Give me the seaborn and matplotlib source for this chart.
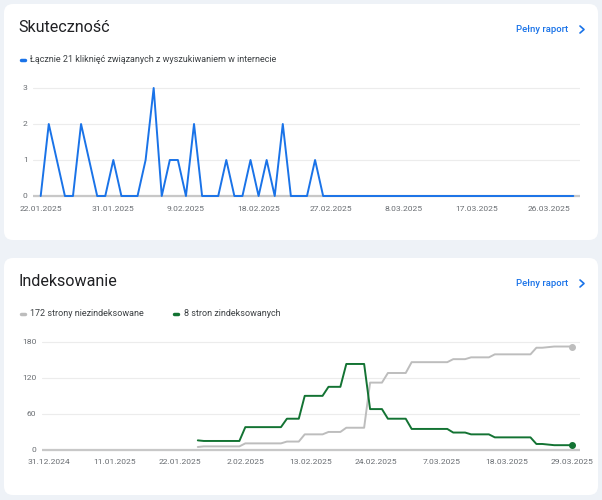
import matplotlib
matplotlib.use("Agg")
import matplotlib.pyplot as plt
import matplotlib.ticker as mticker
import matplotlib.dates as mdates
from matplotlib.patches import FancyBboxPatch
from matplotlib.lines import Line2D
from matplotlib.transforms import IdentityTransform
import pandas as pd
import seaborn as sns

sns.set_style("white")
plt.rcParams["font.family"] = ["Roboto", "DejaVu Sans"]

# Skutecznosc: daily clicks from 22.01.2025
click_start = "2025-01-22"
clicks = [0, 2, 1, 0, 0, 2, 1, 0, 0, 1, 0, 0, 0, 1, 3, 0, 1, 1, 0, 2,
          0, 0, 0, 1, 0, 0, 1, 0, 1, 0, 2, 0, 0, 0, 1, 0, 0, 0, 0, 0,
          0, 0, 0, 0, 0, 0, 0, 0, 0, 0, 0, 0, 0, 0, 0, 0, 0, 0, 0, 0,
          0, 0, 0, 0, 0, 0, 0]
click_ticks = ["2025-01-22", "2025-01-31", "2025-02-09", "2025-02-18",
               "2025-02-27", "2025-03-08", "2025-03-17", "2025-03-26"]
click_yticks = [0, 1, 2, 3]
click_label = "Łącznie 21 kliknięć związanych z wyszukiwaniem w internecie"

# Indeksowanie: daily page counts from 25.01.2025
index_start = "2025-01-25"
not_indexed = [5, 6, 6, 6, 6, 6, 6, 6, 11, 11, 11, 11, 11, 11, 11, 14, 14, 14,
               26, 26, 26, 26, 30, 30, 30, 37, 37, 37, 37, 112, 112, 112,
               128, 128, 128, 128, 146, 146, 146, 146, 146, 146, 146,
               151, 151, 151, 154, 154, 154, 154,
               159, 159, 159, 159, 159, 159, 159, 170, 170, 171,
               172, 172, 172, 172]
indexed = [16, 15, 15, 15, 15, 15, 15, 15, 38, 38, 38, 38, 38, 38, 38, 52, 52, 52,
           90, 90, 90, 90, 105, 105, 105, 143, 143, 143, 143, 68, 68, 68,
           52, 52, 52, 52, 35, 35, 35, 35, 35, 35, 35,
           29, 29, 29, 26, 26, 26, 26,
           21, 21, 21, 21, 21, 21, 21, 10, 10, 9,
           8, 8, 8, 8]
index_ticks = ["2024-12-31", "2025-01-11", "2025-01-22", "2025-02-02", "2025-02-13",
               "2025-02-24", "2025-03-07", "2025-03-18", "2025-03-29"]
index_yticks = [0, 60, 120, 180]
not_indexed_label = "172 strony niezindeksowane"
indexed_label = "8 stron zindeksowanych"

BLUE = "#1a73e8"
GREEN = "#137333"
GRAY = "#bdbdbd"
W, H = 602, 500


def fx(x):
    return x / W


def fy(y):
    return 1 - y / H


def fmt_date(v, pos=None):
    d = mdates.num2date(v)
    return f"{d.day}.{d.month:02d}.{d.year}"


def card(fig, top, bottom):
    fig.patches.append(FancyBboxPatch(
        (4, H - bottom), 594, bottom - top,
        boxstyle="round,pad=0,rounding_size=9",
        transform=IdentityTransform(), facecolor="white", edgecolor="none",
        zorder=-5))


def header(fig, y, title):
    fig.text(fx(18), fy(y), title, fontsize=11.6, color="#202124",
             va="center", ha="left")
    fig.text(fx(516.5), fy(y + 1.5), "Pełny raport", fontsize=6.8, color=BLUE,
             weight="medium", va="center", ha="left")
    fig.add_artist(Line2D([fx(580), fx(584), fx(580)],
                          [fy(y - 2), fy(y + 1.5), fy(y + 5)],
                          color=BLUE, lw=1.2, transform=fig.transFigure))


def legend_item(fig, x, y, color, label):
    fig.add_artist(Line2D([fx(x + 1.2), fx(x + 4.8)], [fy(y), fy(y)],
                          color=color, lw=2.5, solid_capstyle="round",
                          transform=fig.transFigure))
    fig.text(fx(x + 10.5), fy(y), label, fontsize=6.5, color="#3c4043",
             va="center", ha="left")


def style_axes(ax, yticks, ticks, xlim, ylim):
    sns.despine(ax=ax, left=True, bottom=True)
    ax.set_xlim(*xlim)
    ax.set_ylim(*ylim)
    ax.set_yticks(yticks)
    ax.set_xticks([mdates.date2num(pd.Timestamp(t)) for t in ticks])
    ax.xaxis.set_major_formatter(mticker.FuncFormatter(fmt_date))
    ax.yaxis.grid(True, color="#ececec", lw=0.8)
    ax.set_axisbelow(True)
    ax.axhline(0, color="#c8c8c8", lw=1.6, zorder=1)
    ax.tick_params(length=0, labelsize=6.1, labelcolor="#6a6e73")
    ax.tick_params(axis="x", pad=4.8)
    ax.tick_params(axis="y", pad=3.8)
    ax.set_xlabel("")
    ax.set_ylabel("")
    ax.set_facecolor("none")


fig = plt.figure(figsize=(W / 100, H / 100), dpi=100, facecolor="#eef2f7")
card(fig, 4, 240)
card(fig, 258, 495)

# top chart
ax1 = fig.add_axes([fx(33), fy(199.6), fx(580) - fx(33), (199.6 - 84.4) / H])
df1 = pd.DataFrame({"date": pd.date_range(click_start, periods=len(clicks)),
                    "clicks": clicks})
sns.lineplot(data=df1, x="date", y="clicks", ax=ax1, color=BLUE, lw=1.4,
             zorder=3)
c0 = mdates.date2num(pd.Timestamp(click_start))
style_axes(ax1, click_yticks, click_ticks,
           (c0 - 0.954, c0 + 66.83), (-0.1, 3.1))
header(fig, 28, "Skuteczność")
legend_item(fig, 20, 60, BLUE, click_label)

# bottom chart
ax2 = fig.add_axes([fx(41.7), fy(452.4), fx(580) - fx(41.7), (452.4 - 338.1) / H])
df2 = pd.DataFrame({"date": pd.date_range(index_start, periods=len(indexed)),
                    "not_indexed": not_indexed, "indexed": indexed})
sns.lineplot(data=df2, x="date", y="not_indexed", ax=ax2, color=GRAY, lw=1.4,
             zorder=3)
sns.lineplot(data=df2, x="date", y="indexed", ax=ax2, color=GREEN, lw=1.4,
             zorder=4)
last = df2.iloc[-1]
ax2.plot([last["date"]], [last["not_indexed"]], "o", color=GRAY, ms=4,
         zorder=5, clip_on=False)
ax2.plot([last["date"]], [last["indexed"]], "o", color=GREEN, ms=4,
         zorder=5, clip_on=False)
i0 = mdates.date2num(pd.Timestamp(index_ticks[0]))
style_axes(ax2, index_yticks, index_ticks,
           (i0 - 1.28, i0 + 89.34), (-4, 186))
header(fig, 282, "Indeksowanie")
legend_item(fig, 20, 314, GRAY, not_indexed_label)
legend_item(fig, 173, 314, GREEN, indexed_label)

fig.savefig("out.png", dpi=100, facecolor=fig.get_facecolor())
